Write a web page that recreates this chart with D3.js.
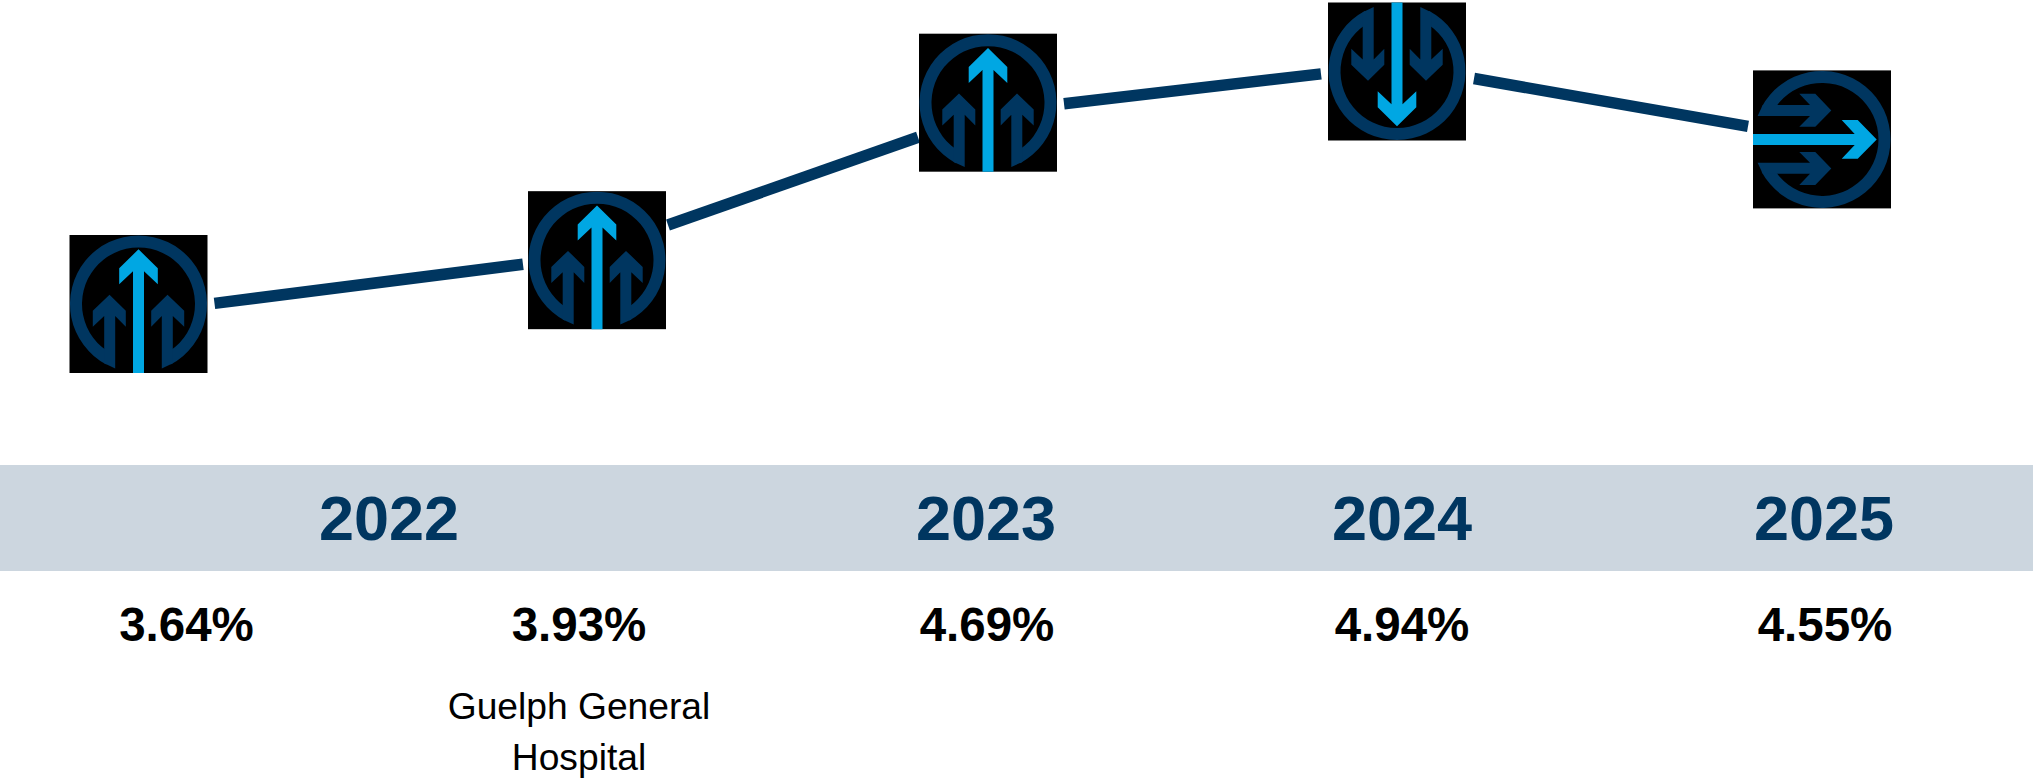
<!DOCTYPE html>
<html>
<head>
<meta charset="utf-8">
<script src="https://cdnjs.cloudflare.com/ajax/libs/d3/7.8.5/d3.min.js"></script>
<style>
    html, body { margin: 0; padding: 0; background: #fff; }
    svg { display: block; }
    text { font-family: "Liberation Sans", Arial, sans-serif; text-anchor: middle; }
</style>
</head>
<body>
<div id="host"></div>
<script>
// Data
const periods = ["p1", "p2", "p3", "p4", "p5"];
const rates = [3.64, 3.93, 4.69, 4.94, 4.55];
const trends = ["up", "up", "up", "down", "right"];
const years = ["2022", "2023", "2024", "2025"];
const peerLines = ["Guelph General", "Hospital"];

// Layout constants
const width = 2033;
const height = 778;
const bandTop = 465;
const bandBottom = 571;
const ICON_SIZE = 138;
const NAVY = "#003660";
const BLUE = "#00a7e3";

// The icons and labels sit by hand near the line, so they carry their own offsets
const iconDx = [0, 22, 0, 0, 0];
const iconDy = [-9, 2.5, -10, 6.5, 0];
const labelDx = [48, 4, -1, 5, 3];
// White space left between the line and each icon box
const gapBefore = [0, 5, 1, 7, 5];
const gapAfter = [7, 2, 7, 8, 0];

const x = d3.scaleOrdinal()
    .domain(periods)
    .range([138.5, 575, 988, 1397, 1822]);

const yearX = d3.scaleOrdinal()
    .domain(years)
    .range([389, 986, 1402, 1824]);

const y = d3.scaleLinear()
    .domain([3.64, 4.94])
    .range([313, 65]);

const points = periods.map((p, i) => ({
    period: p,
    rate: rates[i],
    trend: trends[i],
    cx: x(p) + iconDx[i],
    cy: y(rates[i]) + iconDy[i],
    labelX: x(p) + labelDx[i]
}));

/** Returns the visible piece of the line between two neighbouring points. */
function lineSegment(i) {
    const a = points[i];
    const b = points[i + 1];
    const along = d3.scaleLinear()
        .domain([x(a.period), x(b.period)])
        .range([y(a.rate), y(b.rate)]);
    const x0 = a.cx + ICON_SIZE / 2 + gapAfter[i];
    const x1 = b.cx - ICON_SIZE / 2 - gapBefore[i + 1];
    return [[x0, along(x0)], [x1, along(x1)]];
}

/** Draws one trend icon, pointing up before it is rotated. */
function drawIcon(g) {
    const half = ICON_SIZE / 2;
    g.append("rect")
        .attr("x", -half).attr("y", -half)
        .attr("width", ICON_SIZE).attr("height", ICON_SIZE)
        .attr("fill", "#000");

    const ring = d3.arc()
        .innerRadius(56.5)
        .outerRadius(68.5)
        .startAngle(-Math.PI + 0.49)
        .endAngle(Math.PI - 0.49);
    g.append("path").attr("d", ring()).attr("fill", NAVY);

    const line = d3.line();
    const sideArrow = [
        [29, -9.3], [45.7, 6.7], [45.7, 22.7], [34.3, 12], [34.3, 59.2],
        [23.3, 64.4], [23.3, 12], [12.7, 22.7], [12.7, 6.7]
    ];
    g.append("path").attr("d", line(sideArrow) + "Z").attr("fill", NAVY);
    g.append("path").attr("d", line(sideArrow.map(d => [-d[0], d[1]])) + "Z").attr("fill", NAVY);

    const mainArrow = [
        [0, -54.7], [19.3, -35.7], [19.3, -19.7], [5.5, -32.7], [5.5, 69],
        [-5.5, 69], [-5.5, -32.7], [-19.3, -19.7], [-19.3, -35.7]
    ];
    g.append("path").attr("d", line(mainArrow) + "Z").attr("fill", BLUE);
}

function drawChart() {
    const svg = d3.select("#host")
        .append("svg")
        .attr("width", width)
        .attr("height", height);

    // Year band
    svg.append("rect")
        .attr("x", 0).attr("y", bandTop)
        .attr("width", width).attr("height", bandBottom - bandTop)
        .attr("fill", "#ccd6df");

    svg.append("g").selectAll("text")
        .data(years)
        .join("text")
        .attr("x", d => yearX(d))
        .attr("y", 540)
        .attr("font-size", 63)
        .attr("font-weight", "bold")
        .attr("fill", NAVY)
        .text(d => d);

    // Trend line, broken at each icon
    svg.append("g").selectAll("path")
        .data(d3.range(points.length - 1))
        .join("path")
        .attr("d", i => d3.line()(lineSegment(i)))
        .attr("fill", "none")
        .attr("stroke", NAVY)
        .attr("stroke-width", 11.5);

    // Icons
    const icons = svg.append("g").selectAll("g")
        .data(points)
        .join("g")
        .attr("transform", d => `translate(${d.cx},${d.cy})`);

    icons.append("g")
        .attr("transform", d => `rotate(${{up: 0, down: 180, right: 90}[d.trend]})`)
        .each(function () { drawIcon(d3.select(this)); });

    // Rate labels
    svg.append("g").selectAll("text")
        .data(points)
        .join("text")
        .attr("x", d => d.labelX)
        .attr("y", 641)
        .attr("font-size", 47.5)
        .attr("font-weight", "bold")
        .attr("fill", "#000")
        .text(d => d.rate.toFixed(2) + "%");

    // Peer name under the second point
    svg.append("g").selectAll("text")
        .data(peerLines)
        .join("text")
        .attr("x", points[1].labelX)
        .attr("y", (d, i) => 719 + i * 51)
        .attr("font-size", 37.2)
        .attr("fill", "#000")
        .text(d => d);
}

drawChart();
</script>
</body>
</html>
